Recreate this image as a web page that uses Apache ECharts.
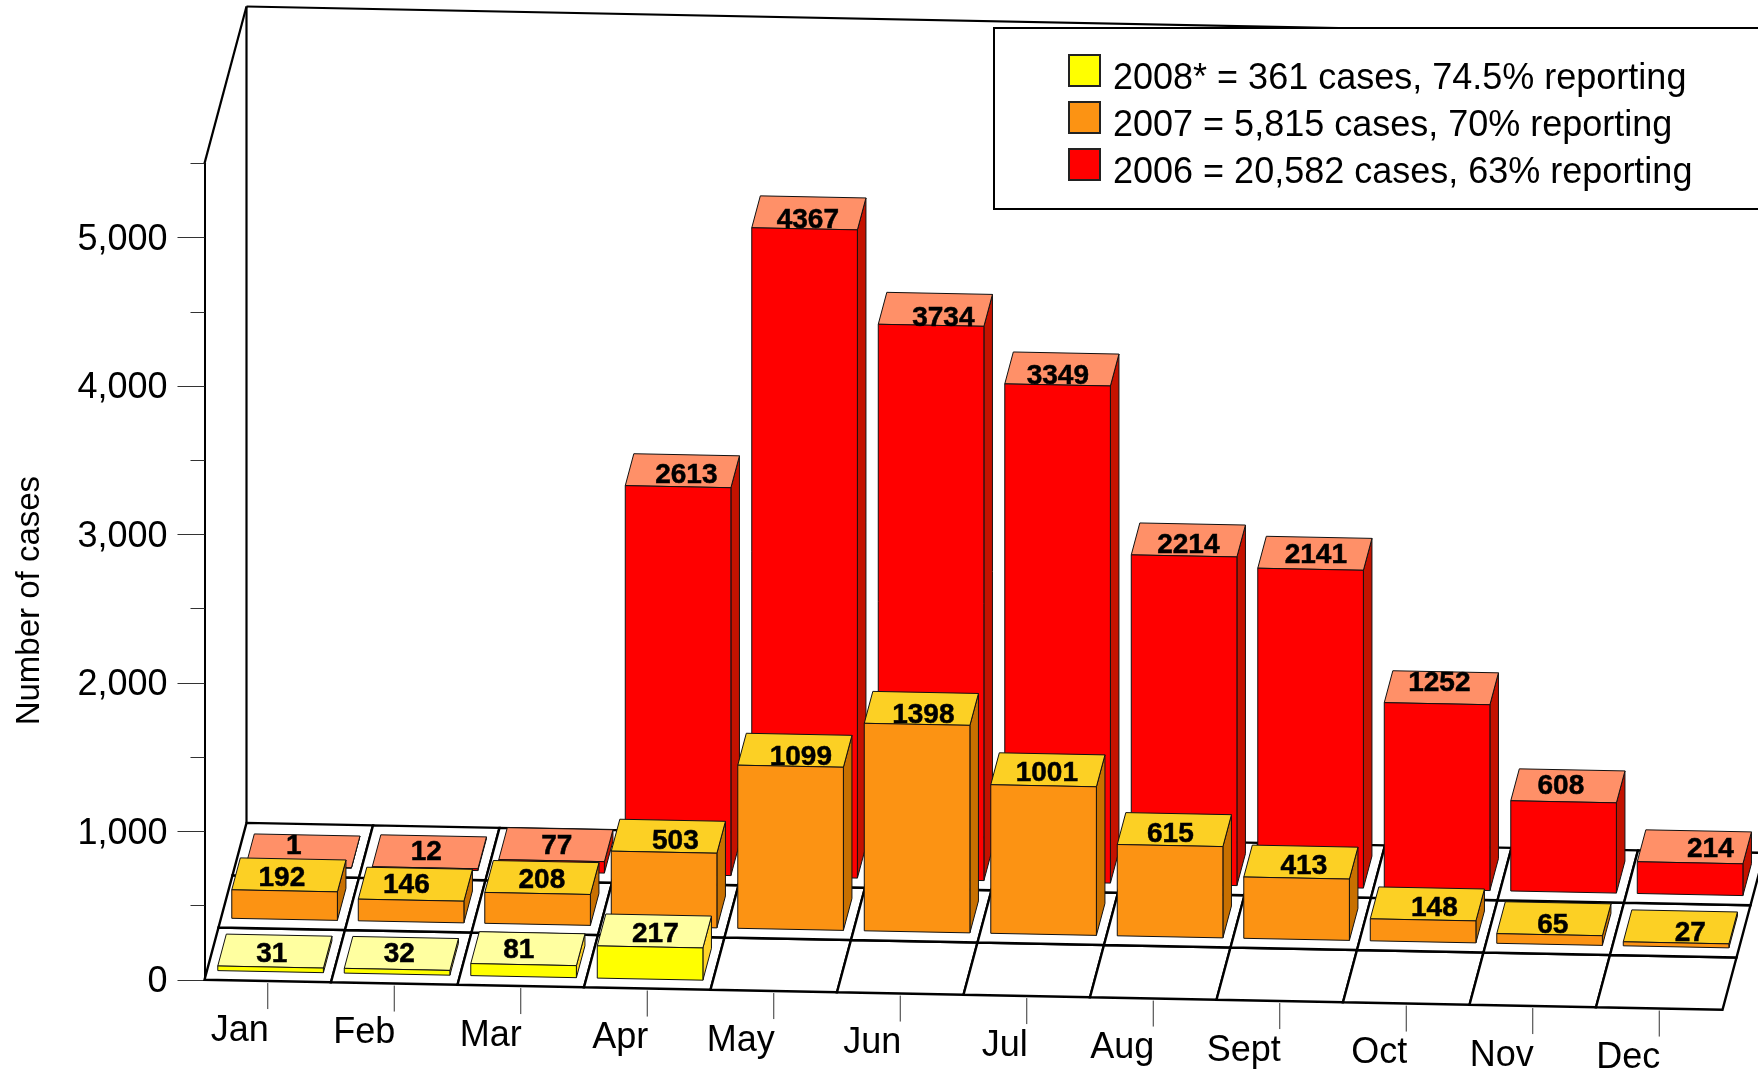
<!DOCTYPE html>
<html lang="en">

<head>
	<meta charset="UTF-8">
	<title>Number of cases</title>
	<style>
		html, body { margin: 0; padding: 0; background: #fff; overflow: hidden; }
		#main { width: 1758px; height: 1074px; }
	</style>
</head>

<body>
	<div id="main"></div>
	<script src="https://cdn.jsdelivr.net/npm/echarts@6/dist/echarts.min.js"></script>
	<script>
		var months = ['Jan', 'Feb', 'Mar', 'Apr', 'May', 'Jun', 'Jul', 'Aug', 'Sept', 'Oct', 'Nov', 'Dec'];
		var cases2006 = [1, 12, 77, 2613, 4367, 3734, 3349, 2214, 2141, 1252, 608, 214];
		var cases2007 = [192, 146, 208, 503, 1099, 1398, 1001, 615, 413, 148, 65, 27];
		var cases2008 = [31, 32, 81, 217];
		var majorTicks = [0, 1000, 2000, 3000, 4000, 5000];
		var minorTicks = [500, 1500, 2500, 3500, 4500, 5500];
		var legend2008 = '2008* = 361 cases, 74.5% reporting';
		var legend2007 = '2007 = 5,815 cases, 70% reporting';
		var legend2006 = '2006 = 20,582 cases, 63% reporting';

		var font = '"Liberation Sans", Arial, sans-serif';
		// 斜投影: 每行/每月的像素偏移
		var rowDx = 14, rowDy = 52.3, monthDy = 2.5;

		// 原图的数字是手工摆放的, 相对顶面中心的偏移 [dx, dy]
		var nudge2006 = [[-9, -5], [-3, 0], [1, 2], [4, 5], [-1, 7], [8, 9], [-4, 7], [0, 5], [1, 2], [-2, -4], [-7, 0], [16, 2]];
		var nudge2007 = [[-7, 3], [-9, 1], [0, 3], [7, 5], [6, 7], [2, 7], [-1, 3], [-4, 5], [3, 4], [7, 4], [-1, 7], [10, 6]];
		var nudge2008 = [[-3, 3], [-2, 1], [-9, 2], [1, 3]];

		function project(api, x, row, v) {
			var c = api.coord([x, v]);
			return [c[0] + row * rowDx, c[1] + x * monthDy - row * rowDy];
		}

		function face(points, fill, width) {
			return {
				type: 'polygon',
				shape: { points: points },
				style: { fill: fill, stroke: '#111', lineWidth: width || 1 }
			};
		}

		function line(a, b, width, color) {
			return {
				type: 'line',
				shape: { x1: a[0], y1: a[1], x2: b[0], y2: b[1] },
				style: { stroke: color || '#000', lineWidth: width }
			};
		}

		// 一根3D柱子: 侧面, 顶面, 正面, 数字
		function barRenderer(row, colors, nudges) {
			return function (params, api) {
				var m = api.value(0), v = api.value(1);
				var x0 = m + 0.085, x1 = m + 0.92;
				var z0 = row + 0.18, z1 = row + 0.79;
				var fl = project(api, x0, z0, 0), fr = project(api, x1, z0, 0);
				var tl = project(api, x0, z0, v), tr = project(api, x1, z0, v);
				var bl = project(api, x0, z1, v), br = project(api, x1, z1, v);
				var sb = project(api, x1, z1, 0);
				return {
					type: 'group',
					children: [
						face([fr, sb, br, tr], colors.side),
						face([tl, bl, br, tr], colors.top),
						face([fl, tl, tr, fr], colors.front),
						{
							type: 'text',
							style: {
								text: String(v),
								x: (tl[0] + br[0]) / 2 + nudges[m][0],
								y: (tl[1] + br[1]) / 2 + nudges[m][1],
								align: 'center',
								verticalAlign: 'middle',
								font: 'bold 28px ' + font,
								fill: '#000',
								stroke: '#000',
								lineWidth: 0.5
							}
						}
					]
				};
			};
		}

		function barData(values) {
			return values.map(function (v, i) { return [i, v]; });
		}

		function barSeries(name, values, row, colors, nudges) {
			return {
				name: name,
				type: 'custom',
				coordinateSystem: 'cartesian2d',
				silent: true,
				itemStyle: { color: colors.front, borderColor: '#222', borderWidth: 1 },
				encode: { x: 0, y: 1 },
				data: barData(values),
				renderItem: barRenderer(row, colors, nudges)
			};
		}

		var chart = echarts.init(document.getElementById('main'));

		var option = {
			animation: false,
			backgroundColor: '#fff',
			grid: { left: 204.5, top: 163.4, width: 1518, height: 816.4 },
			xAxis: { type: 'value', min: 0, max: 12, show: false },
			yAxis: [
				{
					type: 'value', min: 0, max: 5500, interval: 500, position: 'left',
					name: 'Number of cases',
					nameLocation: 'middle',
					nameGap: 158.5,
					nameTextStyle: { fontFamily: font, fontSize: 33, color: '#000', padding: [0, 58, 0, 0] },
					splitLine: { show: false },
					axisLine: { show: true, lineStyle: { color: '#000', width: 2 } },
					axisTick: { show: true, length: 27, customValues: majorTicks, lineStyle: { color: '#333', width: 1 } },
					axisLabel: {
						customValues: majorTicks,
						margin: 37,
						color: '#000',
						formatter: function (v) { return '{t|' + v.toLocaleString('en-US') + '}'; },
						rich: { t: { fontFamily: font, fontSize: 36, color: '#000', lineHeight: 41, verticalAlign: 'bottom' } }
					}
				},
				{
					type: 'value', min: 0, max: 5500, interval: 500, position: 'left',
					splitLine: { show: false },
					axisLine: { show: false },
					axisTick: { show: true, length: 14, customValues: minorTicks, lineStyle: { color: '#333', width: 1 } },
					axisLabel: { show: false }
				}
			],
			legend: {
				left: 994,
				top: 28,
				orient: 'vertical',
				data: [legend2008, legend2007, legend2006],
				icon: 'rect',
				itemWidth: 31,
				itemHeight: 31,
				itemGap: 3.5,
				padding: [26, 400, 17.5, 74],
				backgroundColor: '#fff',
				borderColor: '#000',
				borderWidth: 2,
				selectedMode: false,
				formatter: function (name) { return '{t|' + name + '}'; },
				textStyle: {
					padding: [0, 0, 0, 8],
					rich: { t: { fontFamily: font, fontSize: 36, color: '#000', lineHeight: 54, verticalAlign: 'bottom' } }
				}
			},
			series: [
				{
					// 左墙和后墙
					name: 'walls',
					type: 'custom',
					coordinateSystem: 'cartesian2d',
					silent: true,
					data: [[0, 0]],
					encode: { x: 0, y: 1 },
					renderItem: function (params, api) {
						var top = 5500;
						return {
							type: 'group',
							children: [
								line(project(api, 0, 0, top), project(api, 0, 3, top), 2.2),
								line(project(api, 0, 3, 0), project(api, 0, 3, top), 2.2),
								line(project(api, 0, 3, top), project(api, 12, 3, top), 2.2)
							]
						};
					}
				},
				{
					// 地板格子, 月份刻度和标签
					name: 'floor',
					type: 'custom',
					coordinateSystem: 'cartesian2d',
					silent: true,
					data: months.map(function (m, i) { return [i, 0, m]; }),
					encode: { x: 0, y: 1 },
					renderItem: function (params, api) {
						var m = api.value(0), children = [];
						for (var r = 0; r < 3; r++) {
							children.push({
								type: 'polygon',
								shape: {
									points: [
										project(api, m, r, 0), project(api, m, r + 1, 0),
										project(api, m + 1, r + 1, 0), project(api, m + 1, r, 0)
									]
								},
								style: { fill: '#fff', stroke: '#000', lineWidth: 2.4 }
							});
						}
						var t = project(api, m + 0.5, 0, 0);
						children.push(line([t[0], t[1] + 2], [t[0], t[1] + 28], 1, '#333'));
						children.push({
							type: 'text',
							style: {
								text: months[m],
								x: t[0] + 1,
								y: t[1] + 50,
								align: 'right',
								verticalAlign: 'middle',
								font: '36px ' + font,
								fill: '#000'
							}
						});
						return { type: 'group', children: children };
					}
				},
				barSeries(legend2006, cases2006, 2, { front: '#ff0000', top: '#ff9068', side: '#c41200' }, nudge2006),
				barSeries(legend2007, cases2007, 1, { front: '#fc9313', top: '#fcd024', side: '#c87000' }, nudge2007),
				barSeries(legend2008, cases2008, 0, { front: '#ffff00', top: '#ffffa0', side: '#ffd42a' }, nudge2008)
			]
		};
		chart.setOption(option);
	</script>
</body>

</html>
